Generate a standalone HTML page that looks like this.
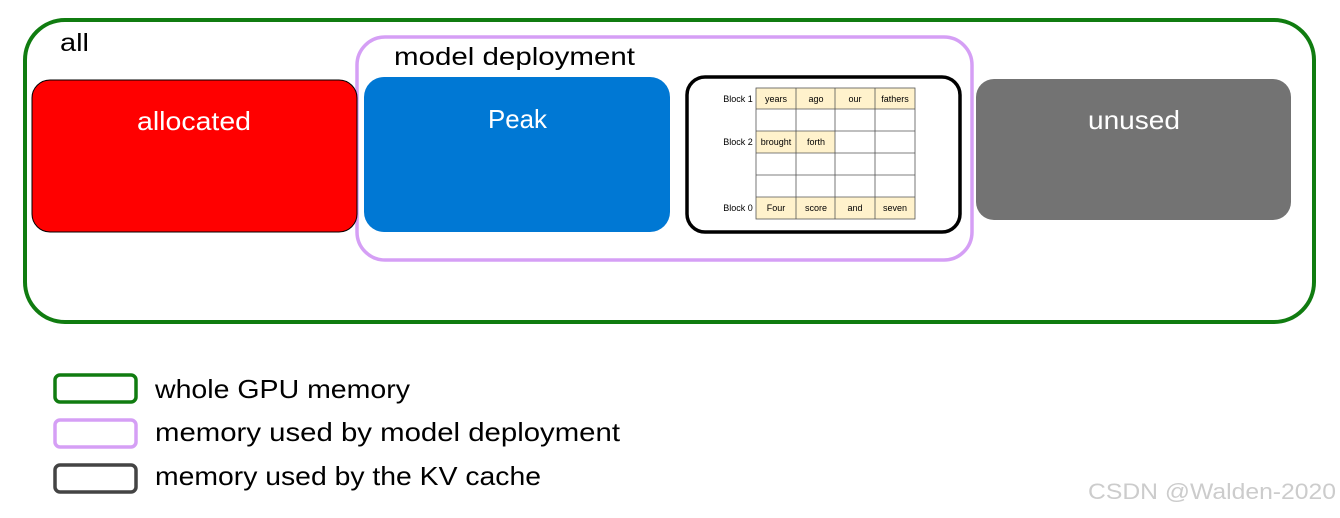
<!DOCTYPE html>
<html><head><style>
body{margin:0;background:#fff;width:1340px;height:513px;overflow:hidden}
svg text{font-family:"Liberation Sans",sans-serif}
</style></head><body>
<svg width="1340" height="513" xmlns="http://www.w3.org/2000/svg">
<rect x="25" y="20" width="1289" height="302" rx="40" fill="none" stroke="#107c10" stroke-width="4"/>
<text x="60" y="51" font-size="25" textLength="29" lengthAdjust="spacingAndGlyphs">all</text>
<rect x="357" y="37" width="615" height="223" rx="28" fill="none" stroke="#d59ff5" stroke-width="3.5"/>
<text x="394" y="65" font-size="25" textLength="241" lengthAdjust="spacingAndGlyphs">model deployment</text>
<rect x="32" y="80" width="325" height="152" rx="18" fill="#ff0000" stroke="#000" stroke-width="1"/>
<text x="137" y="130" font-size="26" fill="#fff" textLength="114" lengthAdjust="spacingAndGlyphs">allocated</text>
<rect x="364" y="77" width="306" height="155" rx="20" fill="#0078d4"/>
<text x="488" y="128" font-size="26" fill="#fff" textLength="59" lengthAdjust="spacingAndGlyphs">Peak</text>
<rect x="687" y="77" width="273" height="155" rx="18" fill="#fff" stroke="#000" stroke-width="3.5"/>
<rect x="976" y="79" width="315" height="141" rx="18" fill="#737373"/>
<text x="1088" y="129" font-size="26" fill="#fff" textLength="92" lengthAdjust="spacingAndGlyphs">unused</text>
<g font-size="9" text-anchor="middle" stroke-width="0.8">
<rect x="756" y="88" width="159" height="21" fill="#fff2cc"/>
<rect x="756" y="131" width="79" height="22" fill="#fff2cc"/>
<rect x="756" y="197" width="159" height="22" fill="#fff2cc"/>
<g stroke="#555">
<rect x="756" y="88" width="159" height="131" fill="none"/>
<line x1="796" y1="88" x2="796" y2="219"/><line x1="835" y1="88" x2="835" y2="219"/><line x1="875" y1="88" x2="875" y2="219"/>
<line x1="756" y1="109" x2="915" y2="109"/><line x1="756" y1="131" x2="915" y2="131"/><line x1="756" y1="153" x2="915" y2="153"/><line x1="756" y1="175" x2="915" y2="175"/><line x1="756" y1="197" x2="915" y2="197"/>
</g>
<text x="776" y="102">years</text><text x="816" y="102">ago</text><text x="855" y="102">our</text><text x="895" y="102">fathers</text>
<text x="776" y="145">brought</text><text x="816" y="145">forth</text>
<text x="776" y="211">Four</text><text x="816" y="211">score</text><text x="855" y="211">and</text><text x="895" y="211">seven</text>
<text x="738" y="102">Block 1</text><text x="738" y="145">Block 2</text><text x="738" y="211">Block 0</text>
</g>
<rect x="55" y="375" width="81" height="27" rx="5" fill="none" stroke="#107c10" stroke-width="3.5"/>
<rect x="55" y="420" width="81" height="27" rx="5" fill="none" stroke="#d59ff5" stroke-width="3.5"/>
<rect x="55" y="465" width="81" height="27" rx="5" fill="none" stroke="#444" stroke-width="3.5"/>
<text x="155" y="398" font-size="26" textLength="255" lengthAdjust="spacingAndGlyphs">whole GPU memory</text>
<text x="155" y="441" font-size="26" textLength="465" lengthAdjust="spacingAndGlyphs">memory used by model deployment</text>
<text x="155" y="485" font-size="26" textLength="386" lengthAdjust="spacingAndGlyphs">memory used by the KV cache</text>
<text x="1088" y="499" font-size="22" fill="#ccc" textLength="248" lengthAdjust="spacingAndGlyphs">CSDN @Walden-2020</text>
</svg>
</body></html>
